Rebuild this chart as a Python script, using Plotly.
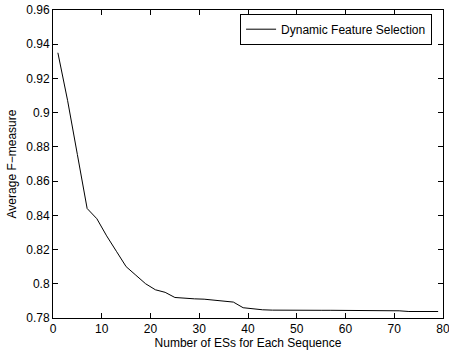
import plotly.graph_objects as go

num_es = [1, 3, 5, 7, 9, 11, 13, 15, 17, 19, 21, 23, 25, 27, 29, 31, 33, 35, 37, 39,
          41, 43, 45, 47, 49, 51, 53, 55, 57, 59, 61, 63, 65, 67, 69, 71, 73, 75, 77, 79]
avg_f = [0.935, 0.907, 0.8755, 0.844, 0.838, 0.828, 0.819, 0.810, 0.805, 0.800,
         0.7965, 0.795, 0.792, 0.7914, 0.7912, 0.791, 0.7903, 0.790, 0.7893, 0.786,
         0.7853, 0.7848, 0.7846, 0.7845, 0.7845, 0.7845, 0.7845, 0.7845, 0.7845, 0.7845,
         0.7842, 0.7842, 0.7842, 0.7842, 0.7842, 0.7842, 0.7838, 0.7838, 0.7838, 0.7838]
x_ticks = [0, 10, 20, 30, 40, 50, 60, 70, 80]
y_ticks = [0.78, 0.80, 0.82, 0.84, 0.86, 0.88, 0.90, 0.92, 0.94, 0.96]
y_tick_text = ["0.78", "0.8", "0.82", "0.84", "0.86", "0.88", "0.9", "0.92", "0.94", "0.96"]

font = dict(family="Liberation Sans, Arial, sans-serif", size=12, color="black")

fig = go.Figure()
fig.add_trace(go.Scatter(x=num_es, y=avg_f, mode="lines",
                         line=dict(color="black", width=1),
                         name="Dynamic Feature Selection"))

axis_common = dict(showline=True, linecolor="black", linewidth=1, mirror="ticks",
                   ticks="inside", ticklen=5, tickcolor="black", tickwidth=1,
                   showgrid=False, zeroline=False, tickfont=font,
                   ticklabeloverflow="allow")

fig.update_xaxes(range=[0, 80], tickvals=x_ticks,
                 title=dict(text="Number of ESs for Each Sequence", font=font, standoff=2),
                 **axis_common)
fig.update_yaxes(range=[0.78, 0.96], tickvals=y_ticks, ticktext=y_tick_text,
                 title=dict(text="Average F−measure", font=font, standoff=7),
                 **axis_common)

fig.update_layout(
    width=449, height=354,
    margin=dict(l=53, r=6, t=10, b=36, autoexpand=False),
    paper_bgcolor="white", plot_bgcolor="white",
    font=font,
    showlegend=True,
    legend=dict(x=0.972, y=0.988, xanchor="right", yanchor="top",
                bordercolor="black", borderwidth=1, bgcolor="white",
                font=font, tracegroupgap=0, itemwidth=30),
)

fig.write_html("out.html")
